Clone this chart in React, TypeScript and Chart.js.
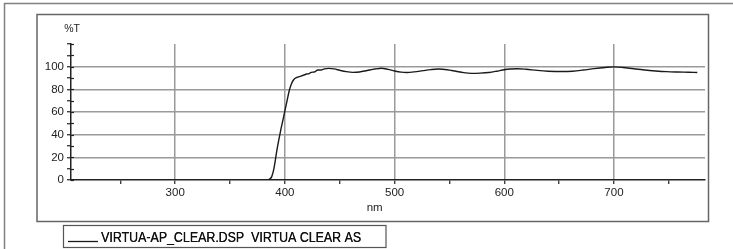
import React, { useEffect, useRef } from "react";
import { Chart, registerables } from "chart.js";

Chart.register(...registerables);

const wavelengthNm = [
  385, 388, 390, 393, 396, 398, 400, 402, 404, 406, 408, 411, 414, 417, 420, 422, 424, 427,
  430, 433, 436, 440, 445, 450, 456, 462, 468, 475, 482, 488, 494, 500, 506, 511, 518, 526,
  533, 540, 548, 556, 563, 570, 578, 586, 593, 600, 606, 612, 620, 630, 640, 653, 662, 672,
  682, 692, 700, 708, 718, 728, 738, 748, 758, 768, 776,
];
const transmission = [
  0, 3, 10, 28, 43, 52, 61, 70, 79, 85, 88.5, 90.5, 91.5, 92.5, 93.5, 93.8, 95, 95.3,
  97, 97, 98, 98.5, 98, 96.8, 95.6, 95.0, 95.3, 96.6, 97.9, 98.6, 97.6, 96.2, 95.2, 94.9, 95.4, 96.5,
  97.4, 97.9, 97.3, 95.9, 94.7, 94.1, 94.3, 94.9, 96.0, 97.3, 97.9, 98.2, 97.7, 96.7, 96.0, 95.7, 96.0, 97.0,
  98.3, 99.3, 99.8, 99.3, 98.1, 97.0, 96.2, 95.6, 95.3, 95.1, 94.9,
];
const xTicks = [250, 300, 350, 400, 450, 500, 550, 600, 650, 700, 750];
const yTicks = [0, 10, 20, 30, 40, 50, 60, 70, 80, 90, 100, 110, 120];
const seriesLabel = "VIRTUA-AP_CLEAR.DSP  VIRTUA CLEAR AS";
const yTitle = "%T";
const xTitle = "nm";

const FONT = '"Liberation Sans", Arial, sans-serif';

const decor = {
  id: "decor",
  beforeDraw(chart: any) {
    const ctx = chart.ctx as CanvasRenderingContext2D;
    ctx.save();
    ctx.strokeStyle = "#808080";
    ctx.lineWidth = 1.5;
    ctx.beginPath();
    ctx.moveTo(4.5, 249);
    ctx.lineTo(4.5, 3.5);
    ctx.lineTo(733, 3.5);
    ctx.stroke();
    ctx.strokeStyle = "#666";
    ctx.strokeRect(37, 14.5, 671.5, 207);
    ctx.strokeStyle = "#555";
    ctx.lineWidth = 1.2;
    ctx.strokeRect(63.5, 225.5, 322.5, 22);
    ctx.restore();
  },
  afterDraw(chart: any) {
    const ctx = chart.ctx as CanvasRenderingContext2D;
    const { left, right } = chart.chartArea;
    const yScale = chart.scales.y;
    ctx.save();
    ctx.strokeStyle = "#222";
    ctx.lineWidth = 1.2;
    yScale.ticks.forEach((t: any) => {
      const py = Math.round(yScale.getPixelForValue(t.value)) + 0.5;
      ctx.beginPath();
      ctx.moveTo(left, py);
      ctx.lineTo(left + 3, py);
      ctx.stroke();
    });
    ctx.fillStyle = "#222";
    ctx.font = "10.5px " + FONT;
    ctx.textAlign = "center";
    ctx.textBaseline = "middle";
    ctx.fillText(yTitle, left + 1, 29);
    ctx.font = "11.5px " + FONT;
    ctx.fillText(xTitle, left + (right - left) * 0.479, 208);
    const ds = chart.data.datasets[0];
    ctx.strokeStyle = ds.borderColor;
    ctx.lineWidth = 1.3;
    ctx.beginPath();
    ctx.moveTo(68, 241.5);
    ctx.lineTo(98, 241.5);
    ctx.stroke();
    ctx.font = "14px " + FONT;
    ctx.textAlign = "left";
    ctx.textBaseline = "alphabetic";
    ctx.fillStyle = "#111";
    const w = ctx.measureText(ds.label).width;
    const target = 260;
    ctx.translate(101, 242);
    ctx.scale(target / w, 1);
    ctx.fillText(ds.label, 0, 0);
    ctx.fillText(ds.label, 0.3, 0);
    ctx.restore();
  },
};

export default function App() {
  const ref = useRef<HTMLCanvasElement | null>(null);
  useEffect(() => {
    if (!ref.current) return;
    const chart = new Chart(ref.current, {
      type: "line",
      data: {
        datasets: [
          {
            label: seriesLabel,
            data: wavelengthNm.map((x, i) => ({ x, y: transmission[i] })),
            borderColor: "#1a1a1a",
            borderWidth: 1.4,
            pointRadius: 0,
            cubicInterpolationMode: "monotone",
            fill: false,
          },
        ],
      },
      options: {
        animation: false,
        responsive: true,
        maintainAspectRatio: false,
        layout: { padding: { left: 0, top: 44, right: 28, bottom: 39 } },
        plugins: { legend: { display: false }, tooltip: { enabled: false } },
        scales: {
          x: {
            type: "linear",
            min: 205,
            max: 783,
            afterBuildTicks: (s: any) => {
              s.ticks = xTicks.map((v) => ({ value: v }));
            },
            afterFit: (s: any) => {
              s.height = 30;
            },
            ticks: {
              autoSkip: false,
              maxRotation: 0,
              padding: 2,
              color: "#222",
              font: { family: FONT, size: 11.5 },
              callback: (v: any) => (Number(v) % 100 === 0 ? String(v) : ""),
            },
            grid: {
              color: (c: any) => (c.tick && c.tick.value % 100 === 0 ? "#9a9a9a" : "rgba(0,0,0,0)"),
              lineWidth: 1.5,
              tickColor: "#222",
              tickLength: 4,
              tickWidth: 1.2,
            },
            border: { display: true, color: "#222", width: 1.5 },
          },
          y: {
            type: "linear",
            min: 0,
            max: 120,
            afterBuildTicks: (s: any) => {
              s.ticks = yTicks.map((v) => ({ value: v }));
            },
            afterFit: (s: any) => {
              s.width = 71;
            },
            ticks: {
              autoSkip: false,
              padding: 3,
              color: "#222",
              font: { family: FONT, size: 11.5 },
              callback: (v: any) => (Number(v) % 20 === 0 && Number(v) <= 100 ? String(v) : ""),
            },
            grid: {
              color: (c: any) =>
                c.tick && c.tick.value % 20 === 0 && c.tick.value > 0 && c.tick.value <= 100
                  ? "#9a9a9a"
                  : "rgba(0,0,0,0)",
              lineWidth: 1.5,
              tickColor: "#222",
              tickLength: 4,
              tickWidth: 1.2,
            },
            border: { display: true, color: "#222", width: 1.5 },
          },
        },
      },
      plugins: [decor],
    });
    return () => chart.destroy();
  }, []);
  return (
    <div style={{ position: "absolute", left: 0, top: 0, width: 733, height: 249, background: "#fff" }}>
      <canvas ref={ref} />
    </div>
  );
}
